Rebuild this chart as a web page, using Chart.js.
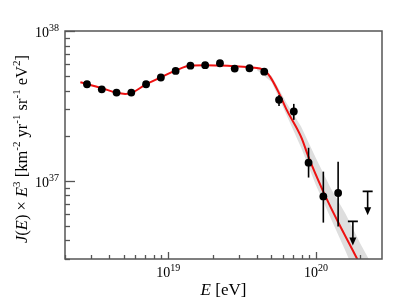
<!DOCTYPE html>
<html>
<head>
<meta charset="utf-8">
<script src="https://cdn.jsdelivr.net/npm/chart.js@4.4.1/dist/chart.umd.min.js"></script>
<style>
  body{margin:0;background:#fff;}
  #wrap{width:407px;height:306px;}
</style>
</head>
<body>
<div id="wrap"><canvas id="specChart"></canvas></div>
<script>
// measured spectrum, J(E) x E^3
const energy = [2.818e18,3.548e18,4.467e18,5.623e18,7.079e18,8.913e18,1.122e19,1.413e19,1.778e19,
  2.239e19,2.818e19,3.548e19,4.467e19,5.623e19,7.079e19,8.913e19,1.122e20,1.413e20];
const flux = [4.41e37,4.08e37,3.88e37,3.88e37,4.41e37,4.89e37,5.41e37,5.87e37,5.91e37,
  6.09e37,5.61e37,5.64e37,5.35e37,3.47e37,2.90e37,1.32e37,7.85e36,8.28e36];
const fluxLow = [4.35e37,4.03e37,3.83e37,3.83e37,4.35e37,4.83e37,5.34e37,5.80e37,5.83e37,
  6.00e37,5.50e37,5.50e37,5.18e37,3.16e37,2.55e37,1.05e37,5.25e36,4.94e36];
const fluxHigh = [4.47e37,4.13e37,3.93e37,3.93e37,4.47e37,4.95e37,5.48e37,5.94e37,5.99e37,
  6.18e37,5.72e37,5.78e37,5.52e37,3.74e37,3.26e37,1.66e37,1.15e37,1.34e37];

// upper limits
const ulEnergy = [1.778e20,2.239e20];
const ulFlux = [5.35e36,8.49e36];

// fitted curve
const fitEnergy = [2.541e18,3.565e18,4.498e18,5.117e18,5.623e18,7.096e18,8.933e18,1.119e19,1.416e19,
  1.778e19,2.244e19,2.805e19,3.540e19,4.188e19,4.519e19,4.887e19,5.559e19,6.339e19,8.000e19,
  8.872e19,1.119e20,1.403e20,1.884e20,2.239e20];
const fitFlux = [4.550e37,4.150e37,3.864e37,3.802e37,3.846e37,4.416e37,4.909e37,5.433e37,5.875e37,
  5.902e37,5.875e37,5.821e37,5.728e37,5.610e37,5.433e37,4.955e37,3.936e37,2.972e37,1.928e37,
  1.452e37,8.492e36,5.358e36,3.055e36,2.140e36];

// systematic band
const bandEnergy = [3.981e19,5.012e19,6.310e19,7.943e19,1.0e20,1.259e20,1.585e20,1.995e20,2.512e20];
const bandHigh = [5.754e37,5.012e37,3.311e37,2.291e37,1.413e37,8.913e36,6.026e36,3.802e36,2.512e36];
const bandLow = [5.495e37,4.571e37,2.754e37,1.660e37,9.333e36,5.623e36,3.388e36,1.995e36,1.259e36];

// tick labels: value, base, exponent
const xTicks = [[1e19,'10','19'],[1e20,'10','20']];
const yTicks = [[1e37,'10','37'],[1e38,'10','38']];

// axis titles as runs: [text, style]  (i = italic, s = superscript)
const xTitle = [['E','i'],[' [eV]','']];
const yTitle = [['J','i'],['(',''],['E','i'],[') × ',''],['E','i'],['3','s'],[' [km',''],['-2','s'],
  [' yr',''],['-1','s'],[' sr',''],['-1','s'],[' eV',''],['2','s'],[']','']];

const serif = 'Liberation Serif';

const pts = (xs,ys) => xs.map((x,i)=>({x:x,y:ys[i]}));

function runFont(style,size){
  if(style==='s') return Math.round(size*0.68)+'px "'+serif+'"';
  if(style==='i') return 'italic '+size+'px "'+serif+'"';
  return size+'px "'+serif+'"';
}
function runsWidth(c,runs,size){
  let w=0;
  runs.forEach(r=>{c.font=runFont(r[1],size); w+=c.measureText(r[0]).width;});
  return w;
}
// draws runs with alphabetic baseline starting at x,y
function drawRuns(c,runs,x,y,size){
  c.textBaseline='alphabetic'; c.textAlign='left';
  runs.forEach(r=>{
    c.font=runFont(r[1],size);
    c.fillText(r[0], x, r[1]==='s' ? y-size*0.42 : y);
    x += c.measureText(r[0]).width;
  });
}

// error bars, upper-limit arrows, inward ticks, frame and labels
const decorations = {
  id:'decorations',
  afterDatasetsDraw(chart){
    const c = chart.ctx, xs = chart.scales.x, ys = chart.scales.y;
    const a = chart.chartArea;
    c.save();
    c.beginPath(); c.rect(a.left,a.top,a.right-a.left,a.bottom-a.top); c.clip();
    c.strokeStyle = '#000'; c.fillStyle = '#000'; c.lineWidth = 1.6;
    energy.forEach((e,i)=>{
      const px = xs.getPixelForValue(e);
      c.beginPath();
      c.moveTo(px, ys.getPixelForValue(fluxLow[i]));
      c.lineTo(px, ys.getPixelForValue(fluxHigh[i]));
      c.stroke();
    });
    ulEnergy.forEach((e,i)=>{
      const px = xs.getPixelForValue(e), py = ys.getPixelForValue(ulFlux[i]);
      c.beginPath();
      c.moveTo(px-5,py); c.lineTo(px+5,py);
      c.moveTo(px,py); c.lineTo(px,py+18);
      c.stroke();
      c.beginPath();
      c.moveTo(px-3.5,py+16); c.lineTo(px+3.5,py+16); c.lineTo(px,py+24); c.closePath();
      c.fill();
    });
    c.restore();
  },
  afterDraw(chart){
    const c = chart.ctx, xs = chart.scales.x, ys = chart.scales.y;
    const a = chart.chartArea;
    c.save();
    c.strokeStyle = '#555'; c.lineWidth = 1.3;
    for(let d=36; d<=38; d++){
      for(let m=1; m<=9; m++){
        const v = m*Math.pow(10,d);
        if(v < ys.min*0.999 || v > ys.max*1.001) continue;
        const py = Math.round(ys.getPixelForValue(v))+0.5;
        const len = m===1 ? 10 : 5;
        c.beginPath(); c.moveTo(a.left,py); c.lineTo(a.left+len,py); c.stroke();
      }
    }
    for(let d=18; d<=20; d++){
      for(let m=1; m<=9; m++){
        const v = m*Math.pow(10,d);
        if(v < xs.min*0.999 || v > xs.max*1.001) continue;
        const px = Math.round(xs.getPixelForValue(v))+0.5;
        const len = m===1 ? 7 : 4;
        c.beginPath(); c.moveTo(px,a.bottom); c.lineTo(px,a.bottom-len); c.stroke();
      }
    }
    c.lineWidth = 1.5;
    c.strokeRect(a.left, a.top, a.right-a.left, a.bottom-a.top);

    // tick labels
    c.fillStyle = '#000';
    const fs = 14;
    xTicks.forEach(t=>{
      const runs = [[t[1],''],[t[2],'s']];
      const w = runsWidth(c,runs,fs);
      drawRuns(c,runs, xs.getPixelForValue(t[0]) - w/2, a.bottom+18, fs);
    });
    yTicks.forEach(t=>{
      const runs = [[t[1],''],[t[2],'s']];
      const w = runsWidth(c,runs,fs);
      drawRuns(c,runs, a.left-6-w, ys.getPixelForValue(t[0])+6, fs);
    });

    // axis titles
    const xw = runsWidth(c,xTitle,17);
    drawRuns(c,xTitle,(a.left+a.right)/2 - xw/2, 295, 17);

    const ts = 16.5;
    c.translate(27,(a.top+a.bottom)/2+4);
    c.rotate(-Math.PI/2);
    const yw = runsWidth(c,yTitle,ts);
    drawRuns(c,yTitle,-yw/2,0,ts);
    c.restore();
  }
};

const ctx = document.getElementById('specChart').getContext('2d');

new Chart(ctx,{
  type:'scatter',
  data:{
    datasets:[
      {label:'data',data:pts(energy,flux),pointRadius:3.9,pointBackgroundColor:'#000',
        pointBorderColor:'#000',pointBorderWidth:0,order:0},
      {label:'fit',data:pts(fitEnergy,fitFlux),showLine:true,borderColor:'#ee1111',borderWidth:2,
        pointRadius:0,cubicInterpolationMode:'monotone',order:1},
      {label:'band low',data:pts(bandEnergy,bandLow),showLine:true,borderWidth:0,borderColor:'rgba(0,0,0,0)',
        pointRadius:0,order:3},
      {label:'band high',data:pts(bandEnergy,bandHigh),showLine:true,borderWidth:0,borderColor:'rgba(0,0,0,0)',
        pointRadius:0,fill:'-1',backgroundColor:'rgba(190,190,190,0.5)',order:2}
    ]
  },
  options:{
    responsive:true,
    maintainAspectRatio:false,
    animation:false,
    layout:{padding:{top:31,right:25,left:0,bottom:0}},
    plugins:{legend:{display:false},tooltip:{enabled:false}},
    scales:{
      x:{
        type:'logarithmic',min:2e18,max:2.8e20,
        grid:{display:false},border:{display:false},
        afterFit:s=>{s.height=47;},
        ticks:{autoSkip:false,maxRotation:0,callback:()=>''}
      },
      y:{
        type:'logarithmic',min:3e36,max:1e38,
        grid:{display:false},border:{display:false},
        afterFit:s=>{s.width=65;},
        ticks:{autoSkip:false,callback:()=>''}
      }
    }
  },
  plugins:[decorations]
});
</script>
</body>
</html>
